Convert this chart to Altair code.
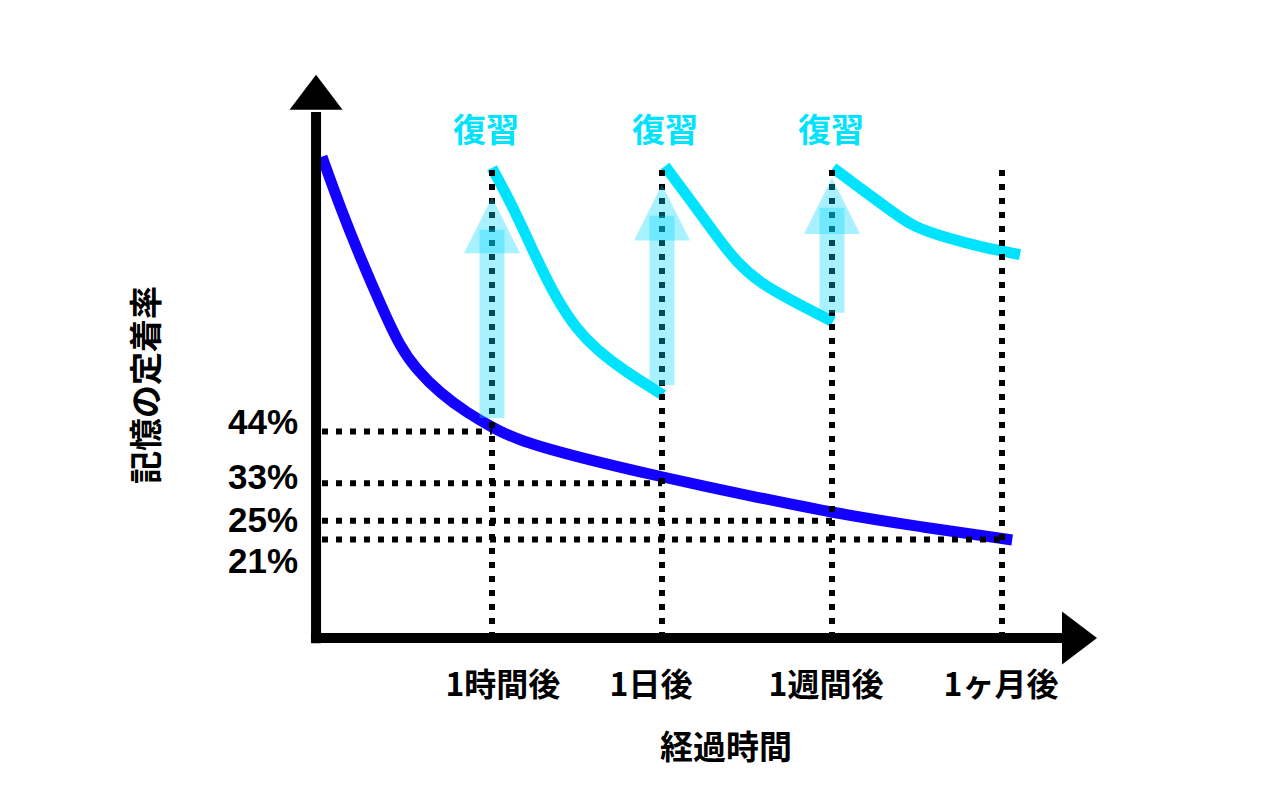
import altair as alt
import pandas as pd

FONT = "Noto Sans CJK JP"
BLUE = "#1400ff"
CYAN = "#00e3ff"
ARROW = "#00d8ff"

# ---- data (chart units: x = elapsed-time steps, y = retention %) ----
blue_x = [0.0, 0.106, 0.224, 0.341, 0.459, 0.559, 0.694, 0.853, 1.006, 1.147,
          1.518, 2.0, 2.518, 3.0, 3.518, 4.06]
blue_y = [102.6, 91.9, 81.2, 71.4, 62.0, 57.1, 52.2, 48.0, 44.8, 42.2,
          38.4, 34.3, 30.3, 26.7, 23.7, 20.9]

rev1_x = [1.0, 1.124, 1.265, 1.382, 1.5, 1.618, 1.771, 2.006]
rev1_y = [100.2, 91.9, 80.6, 72.1, 65.7, 61.4, 57.1, 51.8]
rev2_x = [2.018, 2.165, 2.324, 2.441, 2.576, 2.753, 3.006]
rev2_y = [100.6, 93.4, 85.5, 80.0, 75.7, 72.1, 67.4]
rev3_x = [3.006, 3.165, 3.324, 3.476, 3.676, 3.871, 4.106]
rev3_y = [100.2, 95.9, 91.7, 87.6, 85.3, 83.4, 81.7]

time_steps = [1, 2, 3, 4]
time_labels = ["1時間後", "1日後", "1週間後", "1ヶ月後"]
time_label_x = [1.064, 1.935, 2.965, 3.994]
time_label_y = -10.2

levels = [44, 33, 25, 21]
level_labels = ["44%", "33%", "25%", "21%"]
level_label_y = [45.8, 34.1, 24.9, 16.2]
level_label_x = -0.141

review_x = [1, 2, 3]
review_label_x = [0.965, 2.018, 2.994]
review_label_y = 107.9
shaft_bottom = [46.9, 53.9, 69.3]
shaft_top = [87.0, 90.0, 91.7]
head_y = [88.0, 90.7, 92.1]

vline_top = 100.5

xaxis_x = [-0.065]
xaxis_x2 = [4.38]
xaxis_y = [0]
yaxis_x = [-0.035]
yaxis_y = [-1.1]
yaxis_y2 = [112.1]
yhead = {"x": [-0.035], "y": [116.3]}
xhead = {"x": [4.456], "y": [0]}

x_title = {"x": [2.376], "y": [-23.7], "t": ["経過時間"]}
y_title = {"x": [-1.024], "y": [53.9], "t": ["記憶の定着率"]}

# ---- tables ----
blue_df = pd.DataFrame({"x": blue_x, "y": blue_y})
rev_df = pd.concat([
    pd.DataFrame({"x": rev1_x, "y": rev1_y, "s": "1"}),
    pd.DataFrame({"x": rev2_x, "y": rev2_y, "s": "2"}),
    pd.DataFrame({"x": rev3_x, "y": rev3_y, "s": "3"}),
])
vline_df = pd.DataFrame({"x": time_steps, "y": [0] * 4, "y2": [vline_top] * 4})
hline_df = pd.DataFrame({"x": [0] * 4, "x2": time_steps, "y": levels})
tlab_df = pd.DataFrame({"x": time_label_x, "y": [time_label_y] * 4, "t": time_labels})
llab_df = pd.DataFrame({"x": [level_label_x] * 4, "y": level_label_y, "t": level_labels})
arrow_df = pd.DataFrame({"x": review_x, "y": shaft_bottom, "y2": shaft_top, "h": head_y})
rlab_df = pd.DataFrame({"x": review_label_x, "y": [review_label_y] * 3, "t": ["復習"] * 3})

xs = alt.Scale(domain=[-0.2, 4.8], nice=False, zero=False)
ys = alt.Scale(domain=[0, 120], nice=False, zero=False)
X = lambda f="x": alt.X(f"{f}:Q", scale=xs, axis=None)
Y = lambda f="y": alt.Y(f"{f}:Q", scale=ys, axis=None)

blue = alt.Chart(blue_df).mark_line(
    color=BLUE, strokeWidth=11, interpolate="basis", strokeCap="butt"
).encode(x=X(), y=Y(), order="x:Q")

rev = alt.Chart(rev_df).mark_line(
    color=CYAN, strokeWidth=11, interpolate="basis", strokeCap="butt"
).encode(x=X(), y=Y(), detail="s:N", order="x:Q")

vlines = alt.Chart(vline_df).mark_rule(
    color="black", strokeWidth=6, strokeDash=[6, 8]
).encode(x=X(), y=Y(), y2="y2:Q")

hlines = alt.Chart(hline_df).mark_rule(
    color="black", strokeWidth=6, strokeDash=[6, 8]
).encode(x=X(), x2="x2:Q", y=Y())

shafts = alt.Chart(arrow_df).mark_rule(
    color=ARROW, strokeWidth=25, opacity=0.34, strokeCap="butt"
).encode(x=X(), y=Y(), y2="y2:Q")

heads = alt.Chart(arrow_df).mark_point(
    shape="M0,-1L-1,1L1,1Z", size=3136, filled=True, color=ARROW,
    opacity=0.34, strokeWidth=0
).encode(x=X(), y=Y("h"))

xaxis = alt.Chart(pd.DataFrame({"x": xaxis_x, "x2": xaxis_x2, "y": xaxis_y})).mark_rule(
    color="black", strokeWidth=10, strokeCap="butt"
).encode(x=X(), x2="x2:Q", y=Y())

yaxis = alt.Chart(pd.DataFrame({"x": yaxis_x, "y": yaxis_y, "y2": yaxis_y2})).mark_rule(
    color="black", strokeWidth=10, strokeCap="butt"
).encode(x=X(), y=Y(), y2="y2:Q")

yarrow = alt.Chart(pd.DataFrame(yhead)).mark_point(
    shape="M0,-0.66L-1,0.66L1,0.66Z", size=2809, filled=True, color="black",
    opacity=1, strokeWidth=0
).encode(x=X(), y=Y())

xarrow = alt.Chart(pd.DataFrame(xhead)).mark_point(
    shape="M0.66,0L-0.66,-1L-0.66,1Z", size=2809, filled=True, color="black",
    opacity=1, strokeWidth=0
).encode(x=X(), y=Y())

tlabels = alt.Chart(tlab_df).mark_text(
    font=FONT, fontSize=32, fontWeight="bold", color="black", baseline="middle"
).encode(x=X(), y=Y(), text="t:N")

llabels = alt.Chart(llab_df).mark_text(
    font="Liberation Sans", fontSize=35, fontWeight="bold", color="black",
    baseline="middle", align="right"
).encode(x=X(), y=Y(), text="t:N")

rlabels = alt.Chart(rlab_df).mark_text(
    font=FONT, fontSize=33, fontWeight="bold", color=CYAN, baseline="middle"
).encode(x=X(), y=Y(), text="t:N")

xtitle = alt.Chart(pd.DataFrame(x_title)).mark_text(
    font=FONT, fontSize=33, fontWeight="bold", color="black", baseline="middle"
).encode(x=X(), y=Y(), text="t:N")

ytitle = alt.Chart(pd.DataFrame(y_title)).mark_text(
    font=FONT, fontSize=33, fontWeight="bold", color="black", baseline="middle",
    angle=270
).encode(x=X(), y=Y(), text="t:N")

chart = alt.layer(
    blue, rev, vlines, hlines, shafts, heads, xaxis, yaxis, yarrow, xarrow,
    tlabels, llabels, rlabels, xtitle, ytitle
).properties(
    width=850, height=563,
    autosize=alt.AutoSizeParams(type="none"),
    padding={"left": 288, "top": 75, "right": 142, "bottom": 162},
    background="white",
).configure_view(strokeWidth=0)

chart.save("out.html", embed_options={"renderer": "svg", "actions": False})
